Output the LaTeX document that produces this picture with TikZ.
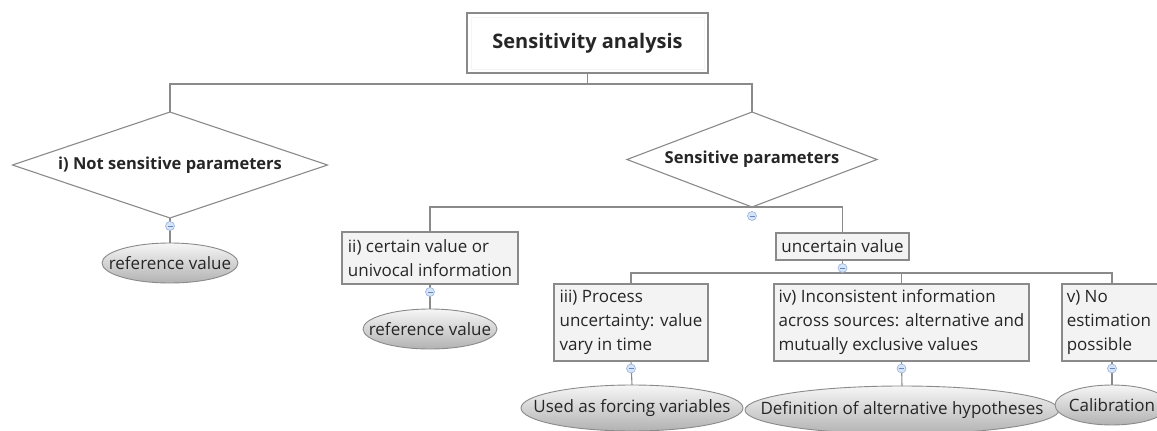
\documentclass[tikz,border=0pt]{standalone}
\usepackage{fontspec}
\setmainfont{Open Sans}
\usetikzlibrary{shapes.geometric,calc}
\definecolor{linec}{RGB}{138,138,138}
\definecolor{textc}{RGB}{38,38,38}
\definecolor{boxf}{RGB}{243,243,243}
\definecolor{minusf}{RGB}{214,228,247}
\definecolor{minusb}{RGB}{150,178,220}
\definecolor{minusbar}{RGB}{105,135,190}
\definecolor{elltop}{RGB}{246,246,246}
\definecolor{ellbot}{RGB}{178,178,178}
\begin{document}
\begin{tikzpicture}[x=1pt,y=-1pt,
  every node/.style={text=textc, inner sep=0pt, outer sep=0pt},
  conn/.style={draw=linec, line width=1.1pt},
  titlebox/.style={rectangle, draw=linec, line width=1.1pt, fill=white,
    font=\fontsize{20}{24}\selectfont\bfseries},
  decision/.style={diamond, shape aspect=3, draw=linec, line width=1.1pt, fill=white,
    font=\fontsize{16.5}{20}\selectfont\bfseries},
  infobox/.style={rectangle, draw=linec, line width=1.1pt, fill=boxf, align=left,
    font=\fontsize{17}{24}\selectfont},
  outcome/.style={ellipse, draw=linec, line width=0.9pt, top color=elltop, bottom color=ellbot},
  outlabel/.style={font=\fontsize{17}{20}\selectfont, text=textc, inner sep=0pt},
  minusmark/.style={circle, draw=minusb, fill=minusf, minimum size=9pt, line width=0.6pt,
    path picture={\draw[minusbar, line width=0.8pt]
      ([xshift=-2.5pt]path picture bounding box.center) --
      ([xshift=2.5pt]path picture bounding box.center);}}
]
\useasboundingbox (0,0) rectangle (1157,431);

% main nodes
\node[titlebox, minimum width=241pt, minimum height=60pt] (title) at (587.5,43) {Sensitivity analysis};
\draw[gray!8, line width=0.8pt] ([shift={(4,4)}]title.north west) rectangle ([shift={(-4,-4)}]title.south east);

\node[decision, minimum width=315pt, minimum height=106pt] (d1) at (170,165) {i) Not sensitive parameters};
\node[decision, minimum width=250pt, minimum height=95pt] (d2) at (752,159.5) {Sensitive parameters};

\node[outcome, minimum width=136pt, minimum height=40pt,
  label={[outlabel]center:reference value}] (e1) at (170,263) {};

\node[infobox, minimum width=176pt, minimum height=52pt] (ii) at (430,258) {ii) certain value or\\univocal information};
\node[outcome, minimum width=134pt, minimum height=40pt,
  label={[outlabel]center:reference value}] (e2) at (430,329) {};

\node[infobox, minimum width=133pt, minimum height=27pt] (unc) at (842.5,246.5) {uncertain value};

\node[infobox, minimum width=154pt, minimum height=77pt] (iii) at (631,322.5) {iii) Process\\uncertainty: value\\vary in time};
\node[infobox, minimum width=255pt, minimum height=77pt] (iv) at (901.5,322.5) {iv) Inconsistent information\\across sources: alternative and\\mutually exclusive values};
\node[infobox, minimum width=100pt, minimum height=77pt] (v) at (1112,322.5) {v) No\phantom{ation}\\estimation\\possible\phantom{ion}};

\node[outcome, minimum width=222pt, minimum height=46pt,
  label={[outlabel]center:Used as forcing variables}] (e3) at (632,408) {};
\node[outcome, minimum width=314pt, minimum height=48pt,
  label={[outlabel]center:Definition of alternative hypotheses}] (e4) at (902,410) {};
\node[outcome, minimum width=114pt, minimum height=40pt,
  label={[outlabel]center:Calibration}] (e5) at (1112,405) {};

% connectors
\coordinate (bus1) at (587.5,84);
\draw[conn] (title.south) -- (bus1);
\draw[conn] (d1.north) |- (bus1) -| (d2.north);

\draw[conn] (ii.north) |- (d2.south) -| (unc.north);

\coordinate (bus3) at (842.5,273);
\draw[conn] (unc.south) -- (bus3);
\draw[conn] (iii.north) |- (bus3) -| (v.north);
\draw[conn] (iv.north) -- (iv.north |- bus3);

\draw[conn] (d1.south) -- (e1.north);
\draw[conn] (ii.south) -- (e2.north);
\draw[conn] (iii.south) -- (e3.north);
\draw[conn] (iv.south) -- (e4.north);
\draw[conn] (v.south) -- (e5.north);

% collapse markers
\node[minusmark] (m1) at ($(d1.south)+(0,8)$) {};
\node[minusmark] (m2) at ($(d2.south)+(0,9)$) {};
\node[minusmark] (m3) at ($(ii.south)+(0,8)$) {};
\node[minusmark] (m4) at ($(unc.south)+(0,8)$) {};
\node[minusmark] (m5) at ($(iii.south)+(0,7.5)$) {};
\node[minusmark] (m6) at ($(iv.south)+(0,7.5)$) {};
\node[minusmark] (m7) at ($(v.south)+(0,7.5)$) {};
\end{tikzpicture}
\end{document}
